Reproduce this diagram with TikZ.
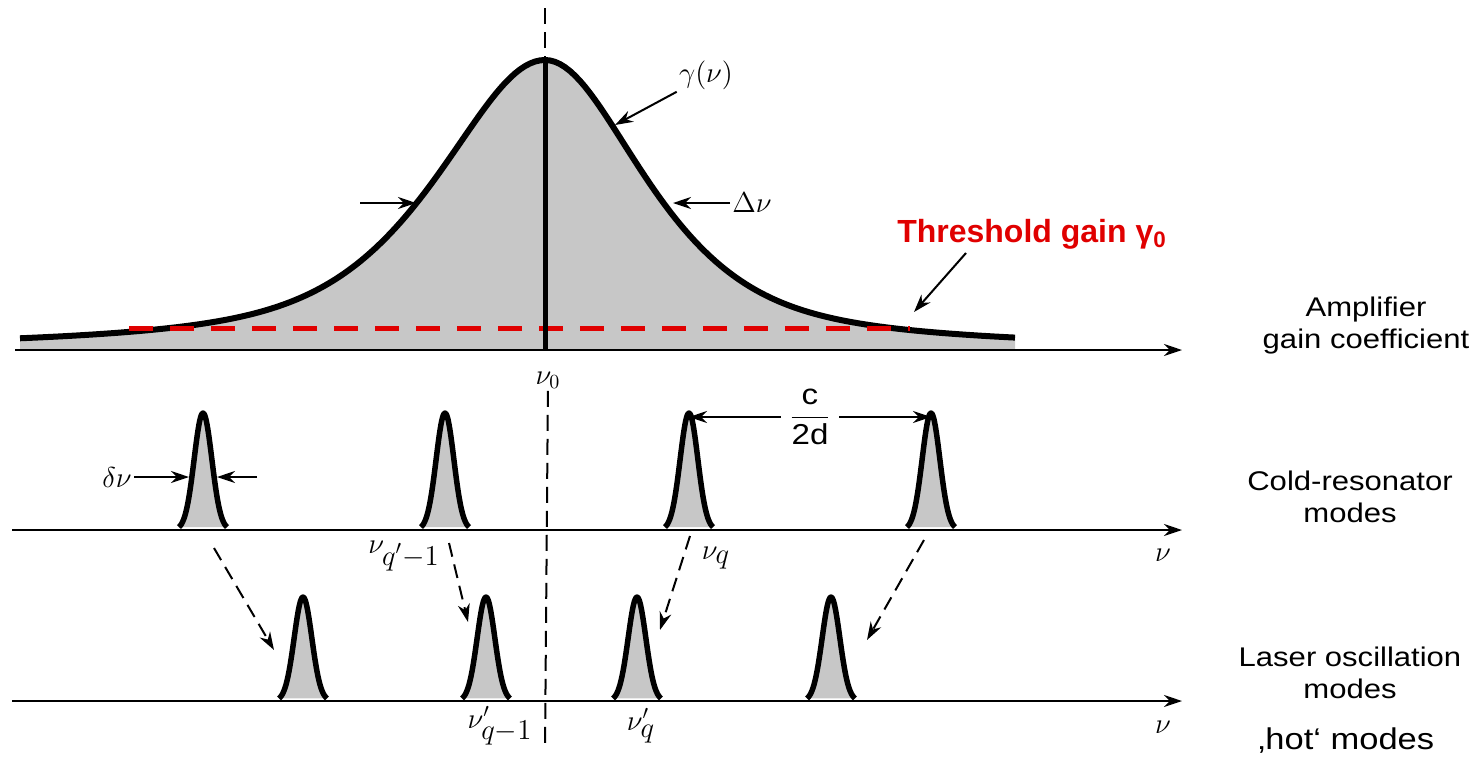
\documentclass[tikz,border=0pt]{standalone}
\usepackage{fontspec}
\usetikzlibrary{arrows.meta}
\newfontfamily\labelfont[FakeStretch=1.15]{Liberation Sans}
\newfontfamily\redfont{Liberation Sans}
\definecolor{thred}{RGB}{224,0,0}
\begin{document}
\begin{tikzpicture}[x=0.5pt,y=-0.5pt,>={Stealth[length=9pt,width=6pt]},line join=round,
	declare function={hw(\t)=(\t<545)*130+(1-(\t<545))*120;
		uu(\t)=((\t-545)/hw(\t))*((\t-545)/hw(\t));
		gain(\t)=350-290*(0.7/(1+uu(\t))+0.3*exp(-0.693*uu(\t)));
		mode(\t)=exp(-(\t/12.5)*(\t/12.5));},
	axisline/.style={line width=1.3pt,->},
	gainline/.style={line width=3pt},
	gainfill/.style={fill=black!22},
	modeshape/.style={line width=2.75pt,fill=black!22},
	pointer/.style={line width=1pt,->},
	dashpointer/.style={line width=1pt,->,dash pattern=on 7pt off 4pt},
	midline/.style={line width=1pt,dash pattern=on 8pt off 4pt},
	threshline/.style={line width=2.5pt,thred,dash pattern=on 12pt off 8.5pt},
	mlabel/.style={font=\Large,inner sep=1pt},
	side/.style={font=\labelfont\fontsize{13.5}{16}\selectfont,align=center},
	threshold/.style={font=\redfont\bfseries\fontsize{16}{18}\selectfont,text=thred}]
	\useasboundingbox (0,0) rectangle (1472,756);
	% gain curve
	\fill[gainfill] (20,350) -- plot[domain=20:1015,samples=200] (\x,{gain(\x)}) -- (1015,350) -- cycle;
	\draw[gainline] plot[domain=20:1015,samples=200] (\x,{gain(\x)});
	% axes
	\coordinate (ax1) at (15,350); \coordinate (ax1e) at (1182,350);
	\coordinate (ax2) at (12,530); \coordinate (ax2e) at (1182,530);
	\coordinate (ax3) at (12,701); \coordinate (ax3e) at (1182,701);
	\draw[axisline] (ax1) -- (ax1e);
	\draw[axisline] (ax2) -- (ax2e);
	\draw[axisline] (ax3) -- (ax3e);
	% threshold
	\coordinate (thl) at (129,328); \coordinate (thr2) at (910,328);
	\draw[threshline] (thl) -- (thr2);
	% center line
	\coordinate (top) at (545,8); \coordinate (peak) at (545,60);
	\coordinate (foot) at (545,350); \coordinate (bottom) at (545,750);
	\node[mlabel] (nu0) at (548,380) {$\nu_0$};
	\draw[midline] (top) -- (peak);
	\draw[line width=2.5pt] (peak) -- (foot);
	\draw[midline] (nu0) -- (bottom);
	% modes
	\foreach \m [count=\i] in {203,445,689,931}{
		\filldraw[modeshape] plot[domain=-24:24,samples=41,smooth] ({\m+\x},{530-117*mode(\x)});
		\coordinate (c\i) at (\m,413);}
	\foreach \m [count=\i] in {303,486,637,831}{
		\filldraw[modeshape] plot[domain=-24:24,samples=41,smooth] ({\m+\x},{701-104*mode(\x)});
		\coordinate (h\i) at (\m,597);}
	\foreach \xa/\ya/\xb/\yb [count=\i] in {214/548/274/650,449/543/468/622,690/536/660/630,924/540/867/640}{
		\coordinate (a\i) at (\xa,\ya); \coordinate (b\i) at (\xb,\yb);}
	\foreach \i in {1,...,4} \draw[dashpointer] (a\i) -- (b\i);
	% labels and pointers
	\node[mlabel] (gam) at (706,75) {$\gamma(\nu)$};
	\coordinate (gtip) at (615,125);
	\draw[pointer] (gam.south west) -- (gtip);
	\node[mlabel,anchor=west] (dnu) at (730,203) {$\Delta\nu$};
	\coordinate (hwl) at (416,203); \coordinate (hwtail) at (360,203); \coordinate (hwr) at (673,203);
	\draw[pointer] (hwtail) -- (hwl);
	\draw[pointer] (dnu) -- (hwr);
	\node[threshold] (thr) at (1032,234) {Threshold gain γ\textsubscript{0}};
	\coordinate (thrtail) at (966,253); \coordinate (thrtip) at (914,312);
	\draw[pointer] (thrtail) -- (thrtip);
	\node[mlabel] (dn) at (117,477) {$\delta\nu$};
	\coordinate (dl) at (189,477); \coordinate (dr) at (217,477); \coordinate (dtail) at (257,477);
	\draw[pointer] (dn) -- (dl);
	\draw[pointer] (dtail) -- (dr);
	\node[mlabel,inner sep=4pt] (frac) at (810,417) {$\displaystyle\frac{\mbox{\labelfont c}}{\mbox{\labelfont 2d}}$};
	\draw[pointer] (frac.west) -- (frac.west -| c3);
	\draw[pointer] (frac.east) -- (frac.east -| c4);
	\node[mlabel] (nuq1) at (404,556) {$\nu_{\textstyle q'{-}1}$};
	\node[mlabel] (nuq) at (716,558) {$\nu_{\textstyle q}$};
	\node[mlabel] (hnuq1) at (500,726) {$\nu'_{\textstyle q{-}1}$};
	\node[mlabel] (hnuq) at (641,726) {$\nu'_{\textstyle q}$};
	\node[mlabel] (nuc) at (1163,555) {$\nu$};
	\node[mlabel] (nuh) at (1163,727) {$\nu$};
	\node[side] (amp) at (1366,326) {Amplifier\\gain coefficient};
	\node[side] (cold) at (1350,497) {Cold-resonator\\modes};
	\node[side] (laser) at (1350,673) {Laser oscillation\\modes};
	\node[side,font=\labelfont\fontsize{15}{17}\selectfont] (hot) at (1346,741) {‚hot‘ modes};
\end{tikzpicture}
\end{document}
